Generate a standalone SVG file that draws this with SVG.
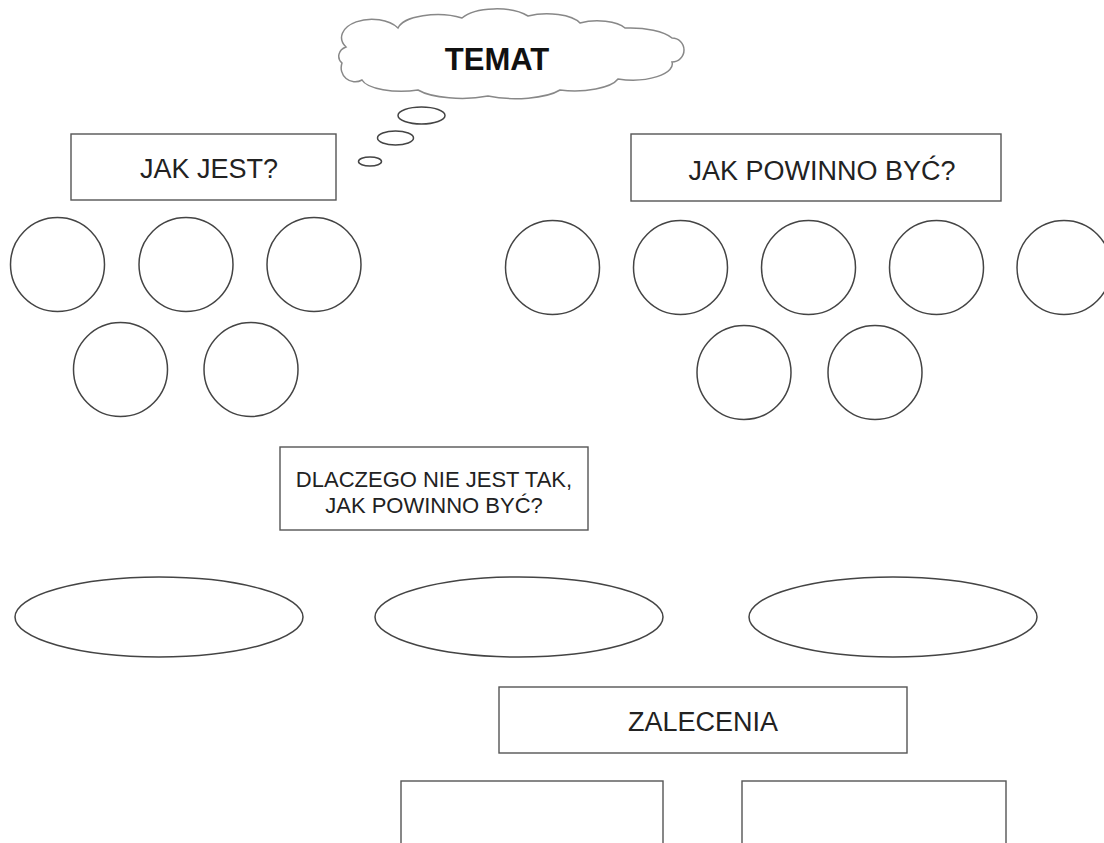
<svg xmlns="http://www.w3.org/2000/svg" width="1104" height="843" viewBox="0 0 1104 843">
<style>
.box{fill:#fff;stroke:#555;stroke-width:1.4}
.shape{fill:#fff;stroke:#444;stroke-width:1.5}
.cloud{fill:#fff;stroke:#888;stroke-width:1.5}
.lbl{font-family:"Liberation Sans",Arial,sans-serif;font-size:27px;fill:#222;text-anchor:middle}
.small{font-size:22px}
.title{font-family:"Liberation Sans",Arial,sans-serif;font-size:31px;font-weight:bold;fill:#111;text-anchor:middle}
</style>
<rect width="1104" height="843" fill="#fff"/>
<g id="temat">
<path class="cloud" d="M346,47 A30,18 0 0,1 398,28 A40,16 0 0,1 462,18 A38,16 0 0,1 528,16 A35,14 0 0,1 580,23 A30,12 0 0,1 625,28 A45,16 0 0,1 672,38 A12,12 0 0,1 672,62 A40,16 0 0,1 618,79 A45,16 0 0,1 560,90 A50,16 0 0,1 488,96 A50,16 0 0,1 418,90 A40,14 0 0,1 362,80 A14,14 0 0,1 342,63 A12,10 0 0,1 346,47 Z"/>
<text class="title" x="497" y="70">TEMAT</text>
<ellipse class="shape" cx="421.5" cy="115.5" rx="23.5" ry="8.5"/>
<ellipse class="shape" cx="395.5" cy="138" rx="18" ry="7"/>
<ellipse class="shape" cx="370" cy="161.5" rx="11.5" ry="4.5"/>
</g>
<g id="jak-jest">
<rect class="box" x="71" y="134" width="265" height="66"/>
<text class="lbl" x="209" y="178">JAK JEST?</text>
</g>
<g id="jak-powinno">
<rect class="box" x="631" y="134" width="370" height="67"/>
<text class="lbl" x="822" y="180">JAK POWINNO BYĆ?</text>
</g>
<g id="jest-circles">
<circle class="shape" cx="57.5" cy="264.5" r="47"/>
<circle class="shape" cx="186" cy="264.5" r="47"/>
<circle class="shape" cx="314" cy="264.5" r="47"/>
<circle class="shape" cx="120.5" cy="369.5" r="47"/>
<circle class="shape" cx="251" cy="369.5" r="47"/>
</g>
<g id="powinno-circles">
<circle class="shape" cx="552.5" cy="267.5" r="47"/>
<circle class="shape" cx="680.5" cy="267.5" r="47"/>
<circle class="shape" cx="808.5" cy="267.5" r="47"/>
<circle class="shape" cx="936.5" cy="267.5" r="47"/>
<circle class="shape" cx="1064" cy="267.5" r="47"/>
<circle class="shape" cx="744" cy="372.5" r="47"/>
<circle class="shape" cx="875" cy="372.5" r="47"/>
</g>
<g id="dlaczego">
<rect class="box" x="280" y="447" width="308" height="83"/>
<text class="lbl small" x="434" y="487">DLACZEGO NIE JEST TAK,</text>
<text class="lbl small" x="434" y="513">JAK POWINNO BYĆ?</text>
</g>
<g id="przyczyny">
<ellipse class="shape" cx="159" cy="617" rx="144" ry="40"/>
<ellipse class="shape" cx="519" cy="617" rx="144" ry="40"/>
<ellipse class="shape" cx="893" cy="617" rx="144" ry="40"/>
</g>
<g id="zalecenia">
<rect class="box" x="499" y="687" width="408" height="66"/>
<text class="lbl" x="703" y="731">ZALECENIA</text>
</g>
<g id="zalecenia-boxes">
<rect class="box" x="401" y="781" width="262" height="100"/>
<rect class="box" x="742" y="781" width="264" height="100"/>
</g>
<g id="connectors"/>
</svg>
